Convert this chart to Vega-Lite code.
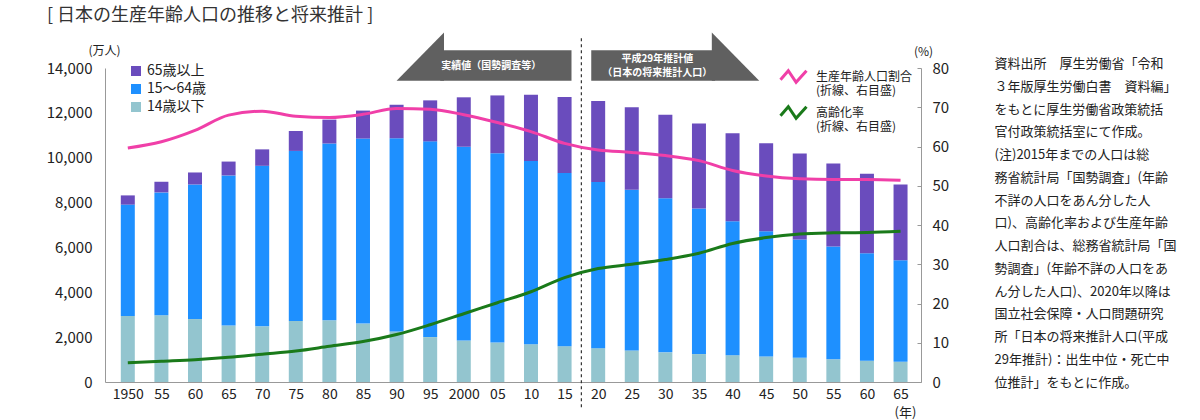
{
  "$schema": "https://vega.github.io/schema/vega-lite/v6.json",
  "width": 816,
  "height": 314,
  "autosize": {"type": "none"},
  "padding": {"left": 105, "top": 68, "right": 279, "bottom": 38},
  "background": "white",
  "title": {"text": "[ 日本の生産年齢人口の推移と将来推計 ]", "anchor": "start", "frame": "group", "dx": -58, "offset": 8, "fontSize": 18, "fontWeight": "normal", "color": "#333333", "font": "Noto Sans CJK JP"},
  "config": {"view": {"stroke": null}, "font": "Noto Sans CJK JP", "axis": {"grid": false}},
  "datasets": {
    "pop": [
      {"year": 1950, "group": "14歳以下", "pop": 2943}, {"year": 1950, "group": "15～64歳", "pop": 4966}, {"year": 1950, "group": "65歳以上", "pop": 411},
      {"year": 1955, "group": "14歳以下", "pop": 2980}, {"year": 1955, "group": "15～64歳", "pop": 5473}, {"year": 1955, "group": "65歳以上", "pop": 475},
      {"year": 1960, "group": "14歳以下", "pop": 2807}, {"year": 1960, "group": "15～64歳", "pop": 6000}, {"year": 1960, "group": "65歳以上", "pop": 535},
      {"year": 1965, "group": "14歳以下", "pop": 2517}, {"year": 1965, "group": "15～64歳", "pop": 6693}, {"year": 1965, "group": "65歳以上", "pop": 618},
      {"year": 1970, "group": "14歳以下", "pop": 2482}, {"year": 1970, "group": "15～64歳", "pop": 7157}, {"year": 1970, "group": "65歳以上", "pop": 733},
      {"year": 1975, "group": "14歳以下", "pop": 2722}, {"year": 1975, "group": "15～64歳", "pop": 7581}, {"year": 1975, "group": "65歳以上", "pop": 887},
      {"year": 1980, "group": "14歳以下", "pop": 2751}, {"year": 1980, "group": "15～64歳", "pop": 7883}, {"year": 1980, "group": "65歳以上", "pop": 1065},
      {"year": 1985, "group": "14歳以下", "pop": 2603}, {"year": 1985, "group": "15～64歳", "pop": 8251}, {"year": 1985, "group": "65歳以上", "pop": 1247},
      {"year": 1990, "group": "14歳以下", "pop": 2254}, {"year": 1990, "group": "15～64歳", "pop": 8614}, {"year": 1990, "group": "65歳以上", "pop": 1493},
      {"year": 1995, "group": "14歳以下", "pop": 2003}, {"year": 1995, "group": "15～64歳", "pop": 8726}, {"year": 1995, "group": "65歳以上", "pop": 1828},
      {"year": 2000, "group": "14歳以下", "pop": 1851}, {"year": 2000, "group": "15～64歳", "pop": 8638}, {"year": 2000, "group": "65歳以上", "pop": 2204},
      {"year": 2005, "group": "14歳以下", "pop": 1759}, {"year": 2005, "group": "15～64歳", "pop": 8442}, {"year": 2005, "group": "65歳以上", "pop": 2576},
      {"year": 2010, "group": "14歳以下", "pop": 1684}, {"year": 2010, "group": "15～64歳", "pop": 8174}, {"year": 2010, "group": "65歳以上", "pop": 2948},
      {"year": 2015, "group": "14歳以下", "pop": 1595}, {"year": 2015, "group": "15～64歳", "pop": 7728}, {"year": 2015, "group": "65歳以上", "pop": 3387},
      {"year": 2020, "group": "14歳以下", "pop": 1507}, {"year": 2020, "group": "15～64歳", "pop": 7406}, {"year": 2020, "group": "65歳以上", "pop": 3619},
      {"year": 2025, "group": "14歳以下", "pop": 1407}, {"year": 2025, "group": "15～64歳", "pop": 7170}, {"year": 2025, "group": "65歳以上", "pop": 3677},
      {"year": 2030, "group": "14歳以下", "pop": 1321}, {"year": 2030, "group": "15～64歳", "pop": 6875}, {"year": 2030, "group": "65歳以上", "pop": 3716},
      {"year": 2035, "group": "14歳以下", "pop": 1246}, {"year": 2035, "group": "15～64歳", "pop": 6494}, {"year": 2035, "group": "65歳以上", "pop": 3782},
      {"year": 2040, "group": "14歳以下", "pop": 1194}, {"year": 2040, "group": "15～64歳", "pop": 5978}, {"year": 2040, "group": "65歳以上", "pop": 3921},
      {"year": 2045, "group": "14歳以下", "pop": 1138}, {"year": 2045, "group": "15～64歳", "pop": 5584}, {"year": 2045, "group": "65歳以上", "pop": 3919},
      {"year": 2050, "group": "14歳以下", "pop": 1077}, {"year": 2050, "group": "15～64歳", "pop": 5275}, {"year": 2050, "group": "65歳以上", "pop": 3841},
      {"year": 2055, "group": "14歳以下", "pop": 1012}, {"year": 2055, "group": "15～64歳", "pop": 5028}, {"year": 2055, "group": "65歳以上", "pop": 3704},
      {"year": 2060, "group": "14歳以下", "pop": 951}, {"year": 2060, "group": "15～64歳", "pop": 4793}, {"year": 2060, "group": "65歳以上", "pop": 3540},
      {"year": 2065, "group": "14歳以下", "pop": 898}, {"year": 2065, "group": "15～64歳", "pop": 4529}, {"year": 2065, "group": "65歳以上", "pop": 3381}
    ],
    "ratio": [
      {"year": 1950, "series": "生産年齢人口割合", "pct": 59.6}, {"year": 1955, "series": "生産年齢人口割合", "pct": 61.2},
      {"year": 1960, "series": "生産年齢人口割合", "pct": 64.1}, {"year": 1965, "series": "生産年齢人口割合", "pct": 68.0},
      {"year": 1970, "series": "生産年齢人口割合", "pct": 69.0}, {"year": 1975, "series": "生産年齢人口割合", "pct": 67.7},
      {"year": 1980, "series": "生産年齢人口割合", "pct": 67.4}, {"year": 1985, "series": "生産年齢人口割合", "pct": 68.2},
      {"year": 1990, "series": "生産年齢人口割合", "pct": 69.7}, {"year": 1995, "series": "生産年齢人口割合", "pct": 69.5},
      {"year": 2000, "series": "生産年齢人口割合", "pct": 68.1}, {"year": 2005, "series": "生産年齢人口割合", "pct": 66.1},
      {"year": 2010, "series": "生産年齢人口割合", "pct": 63.8}, {"year": 2015, "series": "生産年齢人口割合", "pct": 60.8},
      {"year": 2020, "series": "生産年齢人口割合", "pct": 59.1}, {"year": 2025, "series": "生産年齢人口割合", "pct": 58.5},
      {"year": 2030, "series": "生産年齢人口割合", "pct": 57.7}, {"year": 2035, "series": "生産年齢人口割合", "pct": 56.4},
      {"year": 2040, "series": "生産年齢人口割合", "pct": 53.9}, {"year": 2045, "series": "生産年齢人口割合", "pct": 52.5},
      {"year": 2050, "series": "生産年齢人口割合", "pct": 51.8}, {"year": 2055, "series": "生産年齢人口割合", "pct": 51.6},
      {"year": 2060, "series": "生産年齢人口割合", "pct": 51.6}, {"year": 2065, "series": "生産年齢人口割合", "pct": 51.4},
      {"year": 1950, "series": "高齢化率", "pct": 4.9}, {"year": 1955, "series": "高齢化率", "pct": 5.3},
      {"year": 1960, "series": "高齢化率", "pct": 5.7}, {"year": 1965, "series": "高齢化率", "pct": 6.3},
      {"year": 1970, "series": "高齢化率", "pct": 7.1}, {"year": 1975, "series": "高齢化率", "pct": 7.9},
      {"year": 1980, "series": "高齢化率", "pct": 9.1}, {"year": 1985, "series": "高齢化率", "pct": 10.3},
      {"year": 1990, "series": "高齢化率", "pct": 12.1}, {"year": 1995, "series": "高齢化率", "pct": 14.6},
      {"year": 2000, "series": "高齢化率", "pct": 17.4}, {"year": 2005, "series": "高齢化率", "pct": 20.2},
      {"year": 2010, "series": "高齢化率", "pct": 23.0}, {"year": 2015, "series": "高齢化率", "pct": 26.6},
      {"year": 2020, "series": "高齢化率", "pct": 28.9}, {"year": 2025, "series": "高齢化率", "pct": 30.0},
      {"year": 2030, "series": "高齢化率", "pct": 31.2}, {"year": 2035, "series": "高齢化率", "pct": 32.8},
      {"year": 2040, "series": "高齢化率", "pct": 35.3}, {"year": 2045, "series": "高齢化率", "pct": 36.8},
      {"year": 2050, "series": "高齢化率", "pct": 37.7}, {"year": 2055, "series": "高齢化率", "pct": 38.0},
      {"year": 2060, "series": "高齢化率", "pct": 38.1}, {"year": 2065, "series": "高齢化率", "pct": 38.4}
    ],
    "divider": [{"year": 2017.5, "pop": 15330, "bottom": -1130}],
    "arrowBody": [
      {"year": 1996.5, "year2": 2016.03, "pop": 14789, "bottom": 13430},
      {"year": 2018.97, "year2": 2037.4, "pop": 14789, "bottom": 13430}
    ],
    "arrowHead": [
      {"side": "left", "year": 1990.0, "pop": 13430, "base": 13430},
      {"side": "left", "year": 1997.06, "pop": 15578, "base": 13430},
      {"side": "right", "year": 2036.91, "pop": 15578, "base": 13430},
      {"side": "right", "year": 2043.97, "pop": 13430, "base": 13430}
    ],
    "arrowText": [
      {"year": 2004.1, "pop": 14089, "text": "実績値（国勢調査等）"},
      {"year": 2028.8, "pop": 14388, "text": "平成29年推計値"},
      {"year": 2028.8, "pop": 13795, "text": "（日本の将来推計人口）"}
    ],
    "note": [
      {"year": 2079.0, "pop": 14440, "lines": [
        "資料出所　厚生労働省「令和",
        "３年版厚生労働白書　資料編」",
        "をもとに厚生労働省政策統括",
        "官付政策統括室にて作成。",
        "(注)2015年までの人口は総",
        "務省統計局「国勢調査」(年齢",
        "不詳の人口をあん分した人",
        "口)、高齢化率および生産年齢",
        "人口割合は、総務省統計局「国",
        "勢調査」(年齢不詳の人口をあ",
        "ん分した人口)、2020年以降は",
        "国立社会保障・人口問題研究",
        "所「日本の将来推計人口(平成",
        "29年推計)：出生中位・死亡中",
        "位推計」をもとに作成。"
      ]}
    ]
  },
  "encoding": {
    "x": {"field": "year", "type": "quantitative",
      "scale": {"domain": [1947.35, 2067.3], "nice": false, "zero": false},
      "axis": {"values": [1950, 1955, 1960, 1965, 1970, 1975, 1980, 1985, 1990, 1995, 2000, 2005, 2010, 2015, 2020, 2025, 2030, 2035, 2040, 2045, 2050, 2055, 2060, 2065],
        "format": "d", "labelExpr": "datum.value == 1950 || datum.value == 2000 ? datum.label : substring(datum.label, 2, 4)",
        "ticks": false, "domainColor": "#999999", "labelFontSize": 14, "labelColor": "#222222", "labelPadding": 5, "labelFlush": false, "labelOverlap": false,
        "title": "(年)", "titleFontSize": 13, "titleFontWeight": "normal", "titleColor": "#222222",
        "titleX": 800, "titleY": 30, "titleAlign": "center", "titleBaseline": "middle", "grid": false}}
  },
  "layer": [
    {
      "encoding": {
        "y": {"field": "pop", "type": "quantitative",
          "scale": {"domain": [0, 14000], "nice": false},
          "axis": {"values": [0, 2000, 4000, 6000, 8000, 10000, 12000, 14000], "format": ",d", "ticks": false, "labelPadding": 13,
            "labelFontSize": 15, "labelColor": "#222222", "domainColor": "#999999", "grid": false, "labelOverlap": false,
            "title": "(万人)", "titleAngle": 0, "titleX": -1, "titleY": -18, "titleAlign": "center", "titleBaseline": "middle",
            "titleFontSize": 12, "titleFontWeight": "normal", "titleColor": "#222222"}}
      },
      "layer": [
        {
          "data": {"name": "pop"},
          "transform": [{"calculate": "indexof(['14歳以下','15～64歳','65歳以上'], datum.group)", "as": "stackOrder"}],
          "mark": {"type": "bar", "size": 14, "orient": "vertical", "opacity": 1},
          "encoding": {
            "color": {"field": "group", "type": "nominal",
              "scale": {"domain": ["65歳以上", "15～64歳", "14歳以下"], "range": ["#6a4cbd", "#1e90ff", "#93c5cf"]},
              "legend": {"title": null, "orient": "none", "legendX": 24, "legendY": -4, "symbolType": "square", "symbolSize": 100,
                "labelFontSize": 14, "labelColor": "#222222", "rowPadding": 4, "labelOffset": 4, "padding": 0, "symbolStrokeWidth": 0}},
            "order": {"field": "stackOrder", "type": "quantitative"}
          }
        },
        {
          "data": {"name": "divider"},
          "mark": {"type": "rule", "color": "#333333", "strokeDash": [3, 3], "strokeWidth": 1.2},
          "encoding": {"y2": {"field": "bottom"}}
        },
        {
          "data": {"name": "arrowBody"},
          "mark": {"type": "rect", "color": "#606060", "opacity": 1},
          "encoding": {"x2": {"field": "year2"}, "y2": {"field": "bottom"}}
        },
        {
          "data": {"name": "arrowHead"},
          "mark": {"type": "area", "color": "#606060", "opacity": 1, "orient": "vertical"},
          "encoding": {"y2": {"field": "base"}, "detail": {"field": "side", "type": "nominal"}}
        },
        {
          "data": {"name": "arrowText"},
          "mark": {"type": "text", "color": "white", "fontSize": 10, "fontWeight": "bold", "align": "center", "baseline": "middle"},
          "encoding": {"text": {"field": "text", "type": "nominal"}}
        },
        {
          "data": {"name": "note"},
          "mark": {"type": "text", "color": "#222222", "fontSize": 13, "align": "left", "baseline": "top", "lineHeight": 22.75},
          "encoding": {"text": {"field": "lines", "type": "nominal"}}
        }
      ]
    },
    {
      "data": {"name": "ratio"},
      "mark": {"type": "line", "interpolate": "monotone", "strokeWidth": 3},
      "encoding": {
        "y": {"field": "pct", "type": "quantitative", "scale": {"domain": [0, 80], "nice": false},
          "axis": {"orient": "right", "values": [0, 10, 20, 30, 40, 50, 60, 70, 80], "format": "d", "tickSize": -4, "tickColor": "#999999", "labelPadding": 15,
            "labelFontSize": 15, "labelColor": "#222222", "domainColor": "#999999", "grid": false,
            "title": "(%)", "titleAngle": 0, "titleX": 2, "titleY": -17, "titleAlign": "center", "titleBaseline": "middle",
            "titleFontSize": 12, "titleFontWeight": "normal", "titleColor": "#222222"}},
        "color": {"field": "series", "type": "nominal",
          "scale": {"domain": ["生産年齢人口割合", "高齢化率"], "range": ["#f03fa8", "#1a7a1a"]},
          "legend": {"title": null, "orient": "none", "legendX": 674, "legendY": -6,
            "symbolType": "M-1,0.25L-0.4,-0.45L0.2,0.45L1,-0.45", "symbolSize": 676, "symbolStrokeWidth": 3,
            "labelFontSize": 12, "labelColor": "#222222", "labelOffset": 8, "rowPadding": 1, "padding": 0,
            "labelExpr": "datum.label == '高齢化率' ? ['高齢化率', '(折線、右目盛)'] : ['生産年齢人口割合', '(折線、右目盛)']"}}
      }
    }
  ],
  "resolve": {"scale": {"y": "independent", "color": "independent"}}
}
